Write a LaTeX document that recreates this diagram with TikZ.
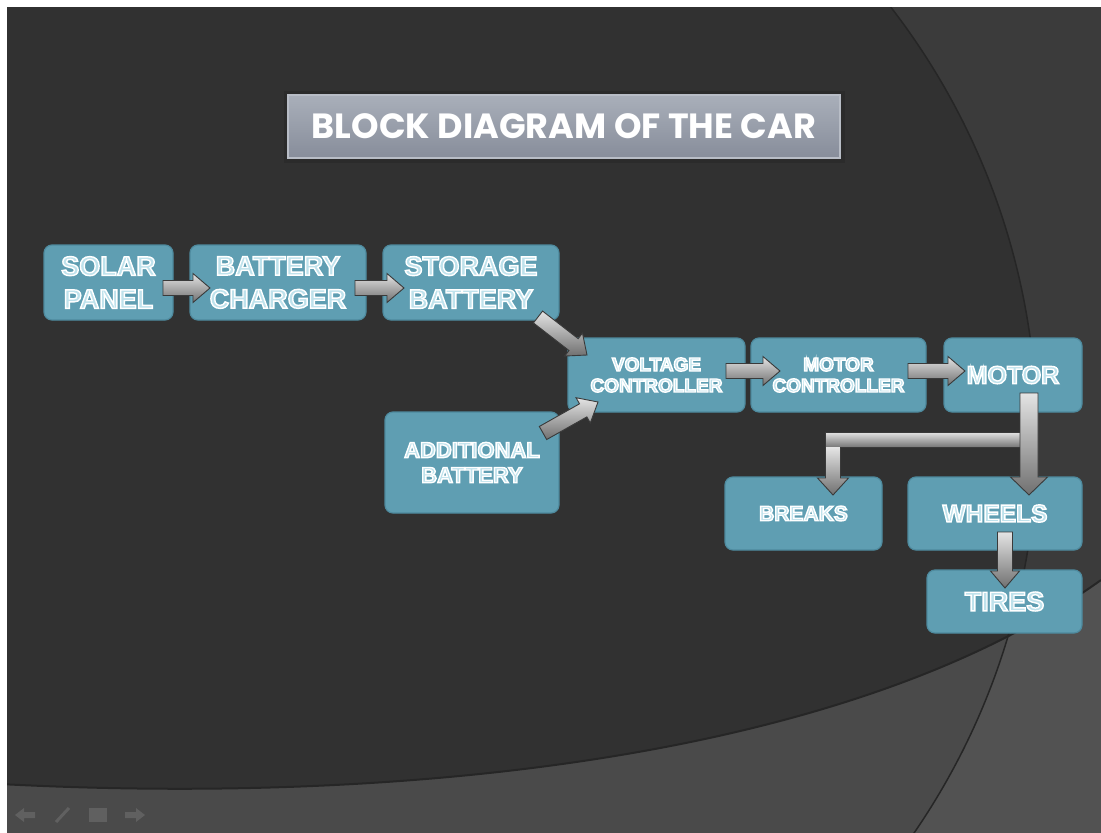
\documentclass[tikz,border=0pt]{standalone}
\usepackage{fontspec}
\usetikzlibrary{calc}
\newfontfamily\labfont{Liberation Sans}
\newfontfamily\titlefont{Poppins}
\definecolor{bgdark}{HTML}{313131}
\definecolor{bgright}{HTML}{3B3B3B}
\definecolor{bgbottom}{HTML}{4A4A4A}
\definecolor{bgcorner}{HTML}{525252}
\definecolor{bgedge}{HTML}{262626}
\definecolor{boxfill}{HTML}{5F9EB2}
\definecolor{boxedge}{HTML}{4E8A9E}
\definecolor{lblfill}{HTML}{BFE2EC}
\definecolor{arrtop}{HTML}{E4E4E4}
\definecolor{arrmid}{HTML}{ACACAC}
\definecolor{arrbot}{HTML}{707070}
\definecolor{arredge}{HTML}{3A3A3A}
\definecolor{navcol}{HTML}{606060}
\definecolor{ttop}{HTML}{A9AFBA}
\definecolor{tmid}{HTML}{6C7383}
\definecolor{tbot}{HTML}{878D9A}
\definecolor{tedge}{HTML}{B8BDC6}
\newcommand\otext[1]{\special{pdf:literal direct 2 Tr 1 1 1 RG 1.4 w}#1\special{pdf:literal direct 0 Tr}}
\newcommand\fbig{\labfont\bfseries\fontsize{27}{33}\selectfont}
\newcommand\fsmall{\labfont\bfseries\fontsize{19}{21}\selectfont}
\newcommand\fmid{\labfont\bfseries\fontsize{22}{25}\selectfont}
\newcommand\barrow[2]{%
  \coordinate (ah) at ($(#2)!17pt!(#1)$);
  \path[arrowbody] ($(#1)!7.5pt!90:(#2)$) -- ($(ah)!7.5pt!-90:(#1)$) -- ($(ah)!14.5pt!-90:(#1)$) -- (#2)
    -- ($(ah)!14.5pt!90:(#1)$) -- ($(ah)!7.5pt!90:(#1)$) -- ($(#1)!7.5pt!-90:(#2)$) -- cycle;}
\begin{document}
\begin{tikzpicture}[x=1pt,y=-1pt,
  box/.style={draw=boxedge, line width=1.2pt, fill=boxfill, rounded corners=8pt,
    inner sep=0pt, outer sep=0pt, align=center, text=lblfill},
  arrowbody/.style={draw=arredge, line width=0.9pt, line join=miter,
    top color=arrtop, middle color=arrmid, bottom color=arrbot},
  titlebox/.style={draw=tedge, line width=1.5pt, inner sep=0pt,
    top color=ttop, middle color=tmid, bottom color=tbot, text=white,
    font=\titlefont\bfseries\fontsize{35}{38}\selectfont}]
\useasboundingbox (0,0) rectangle (1101,833);
% background
\fill[white] (0,0) rectangle (1101,833);
\begin{scope}
  \clip (7,7) rectangle (1101,833);
  \fill[bgright] (7,7) rectangle (1101,833);
  \fill[bgdark] (335,436) circle (702pt);
  \fill[bgcorner] (0,784) .. controls (400,805) and (850,760) .. (1101,580) -- (1101,833) -- (0,833) -- cycle;
  \begin{scope}
    \clip (335,436) circle (702pt);
    \fill[bgbottom] (0,784) .. controls (400,805) and (850,760) .. (1101,580) -- (1101,833) -- (0,833) -- cycle;
  \end{scope}
  \draw[bgedge, line width=1.5pt] (335,436) circle (702pt);
  \draw[bgedge, line width=2pt] (0,784) .. controls (400,805) and (850,760) .. (1101,580);
\end{scope}
% navigation marks
\fill[navcol] (15,815) -- (24,808) -- (24,812) -- (35,812) -- (35,818) -- (24,818) -- (24,822) -- cycle;
\draw[navcol, line width=3pt] (56,822) -- (69,808);
\fill[navcol] (89,808) rectangle (107,822);
\fill[navcol] (145,815) -- (136,808) -- (136,812) -- (125,812) -- (125,818) -- (136,818) -- (136,822) -- cycle;
% title
\draw[black!85, line width=5pt, opacity=0.5] (286,93) rectangle (842,160);
\node[titlebox, minimum width=552pt, minimum height=63pt] (title) at (564,126.5) {BLOCK DIAGRAM OF THE CAR};
% boxes
\node[box, minimum width=129pt, minimum height=75pt, font=\fbig] (sp) at (108.5,282.5) {\otext{SOLAR\\PANEL}};
\node[box, minimum width=176pt, minimum height=75pt, font=\fbig] (bc) at (278,282.5) {\otext{BATTERY\\CHARGER}};
\node[box, minimum width=176pt, minimum height=75pt, font=\fbig] (sb) at (471,282.5) {\otext{STORAGE\\BATTERY}};
\node[box, minimum width=177pt, minimum height=74pt, font=\fsmall] (vc) at (656.5,375) {\otext{VOLTAGE\\CONTROLLER}};
\node[box, minimum width=175pt, minimum height=74pt, font=\fsmall] (mc) at (838.5,375) {\otext{MOTOR\\CONTROLLER}};
\node[box, minimum width=138pt, minimum height=74pt, font=\labfont\bfseries\fontsize{25}{28}\selectfont] (mo) at (1013,375) {\otext{MOTOR}};
\node[box, minimum width=174pt, minimum height=101pt, font=\fmid] (ab) at (472,462.5) {\otext{ADDITIONAL\\BATTERY}};
\node[box, minimum width=157pt, minimum height=73pt, font=\labfont\bfseries\fontsize{21}{24}\selectfont] (br) at (803.5,513.5) {\otext{BREAKS}};
\node[box, minimum width=174pt, minimum height=73pt, font=\labfont\bfseries\fontsize{24.5}{28}\selectfont] (wh) at (995,513.5) {\otext{WHEELS}};
\node[box, minimum width=155pt, minimum height=63pt, font=\fbig] (ti) at (1004.5,601.5) {\otext{TIRES}};
% connector end points
\coordinate (a1s) at ($(sp.east)+(-10,5.5)$);
\coordinate (a1e) at ($(bc.west)+(20,5.5)$);
\coordinate (a2s) at ($(bc.east)+(-11,5.5)$);
\coordinate (a2e) at ($(sb.west)+(21,5.5)$);
\coordinate (a3s) at ($(sb.south east)+(-21,-3)$);
\coordinate (a3e) at ($(vc.north west)+(19,17)$);
\coordinate (a4s) at ($(ab.north east)+(-16,21)$);
\coordinate (a4e) at ($(vc.south west)+(30,-10)$);
\coordinate (a5s) at ($(vc.east)+(-19,-4)$);
\coordinate (a5e) at ($(mc.west)+(29,-4)$);
\coordinate (a6s) at ($(mc.east)+(-18,-4)$);
\coordinate (a6e) at ($(mo.west)+(21,-4)$);
\coordinate (a7s) at ($(mo.south)+(16,-19)$);
\coordinate (a7e) at ($(wh.north)+(34,18)$);
\coordinate (a9s) at ($(wh.south)+(10,-18)$);
\coordinate (a9e) at ($(ti.north)+(0.5,18)$);
\coordinate (e1) at ($(mo.south)+(9,28)$);
\coordinate (e2) at ($(br.north)+(29.5,18)$);
% connectors
\barrow{a1s}{a1e}
\barrow{a2s}{a2e}
\barrow{a3s}{a3e}
\barrow{a4s}{a4e}
\barrow{a5s}{a5e}
\barrow{a6s}{a6e}
% elbow connector motor -> breaks
\def\elbowpath{($(e1)+(0,-7.5)$) -- ($(e2|-e1)+(-7.5,-7.5)$) -- ($(e2)+(-7.5,-17)$) -- ($(e2)+(-15.5,-17)$) -- (e2)
  -- ($(e2)+(15.5,-17)$) -- ($(e2)+(7.5,-17)$) -- ($(e2|-e1)+(7.5,7.5)$) -- ($(e1)+(0,7.5)$) -- cycle}
\fill[arrmid] \elbowpath;
\begin{scope}
  \clip \elbowpath;
  \shade[top color=arrtop, middle color=arrmid, bottom color=arrbot] ($(e2|-e1)+(-20,-8)$) rectangle ($(e1)+(0,8)$);
  \shade[top color=arrtop, middle color=arrmid, bottom color=arrbot] ($(e2|-e1)+(-20,7.5)$) rectangle ($(e2)+(20,0)$);
\end{scope}
\draw[arredge, line width=0.9pt, line join=miter] \elbowpath;
% motor -> wheels
\path[arrowbody] ($(a7s)+(-9,0)$) -- ($(a7e)+(-9,-18)$) -- ($(a7e)+(-18.5,-18)$) -- (a7e)
  -- ($(a7e)+(18.5,-18)$) -- ($(a7e)+(9,-18)$) -- ($(a7s)+(9,0)$) -- cycle;
\barrow{a9s}{a9e}
\end{tikzpicture}
\end{document}
